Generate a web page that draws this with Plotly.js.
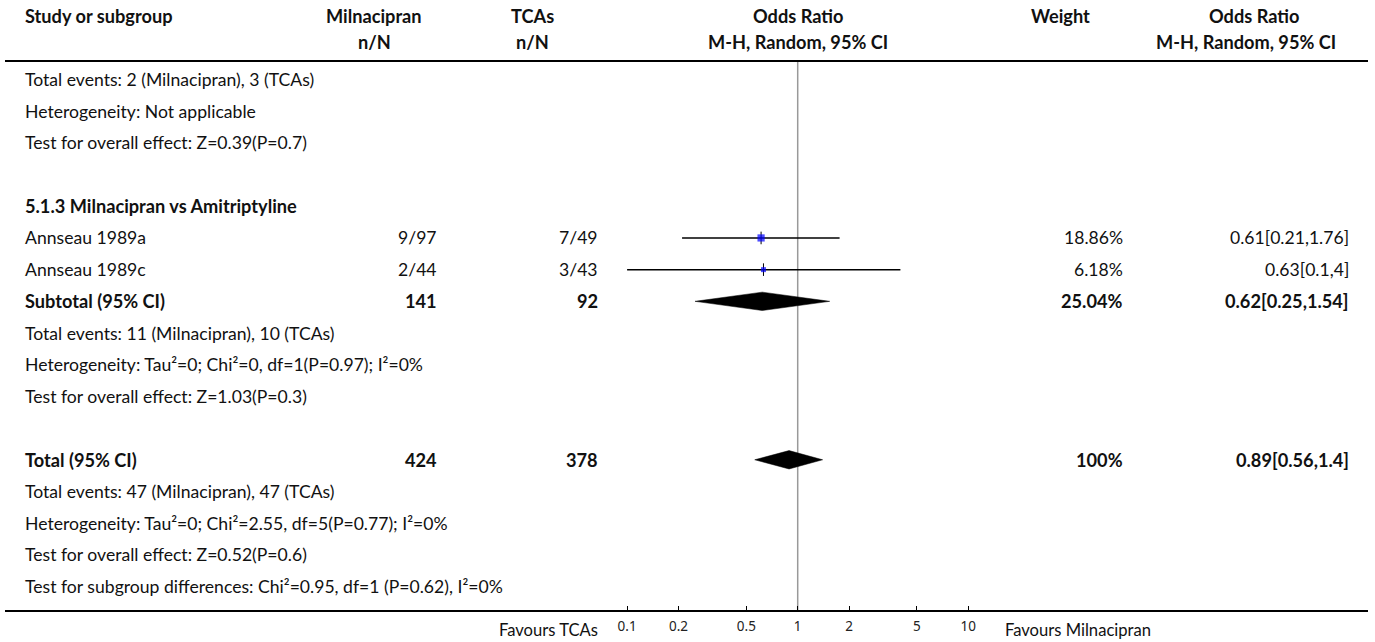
<!DOCTYPE html>
<html>
<head>
<meta charset="utf-8">
<script src="https://cdn.plot.ly/plotly-3.0.1.min.js"></script>
<style>html,body{margin:0;padding:0;background:#fff;}#chart{width:1375px;height:642px;}</style>
</head>
<body>
<div id="chart"></div>
<script>
// ---- data ----
const studies = ["Annseau 1989a", "Annseau 1989c"];
const milEvents = [9, 2];
const milTotal = [97, 44];
const tcaEvents = [7, 3];
const tcaTotal = [49, 43];
const studyOR = [0.61, 0.63];
const studyLo = [0.21, 0.1];
const studyHi = [1.76, 4];
const studyWeight = [18.86, 6.18];
const studyRows = [5, 6];

const subtotalOR = [0.62, 0.25, 1.54]; // est, lo, hi
const subtotalN = [141, 92];
const subtotalWeight = 25.04;
const totalOR = [0.89, 0.56, 1.4];
const totalN = [424, 378];
const totalWeight = 100;

const tickVals = [0.1, 0.2, 0.5, 1, 2, 5, 10];
const tickText = ["0.1", "0.2", "0.5", "1", "2", "5", "10"];

const infoLines = [
  [0, "Total events: 2 (Milnacipran), 3 (TCAs)"],
  [1, "Heterogeneity: Not applicable"],
  [2, "Test for overall effect: Z=0.39(P=0.7)"],
  [8, "Total events: 11 (Milnacipran), 10 (TCAs)"],
  [9, "Heterogeneity: Tau²=0; Chi²=0, df=1(P=0.97); I²=0%"],
  [10, "Test for overall effect: Z=1.03(P=0.3)"],
  [13, "Total events: 47 (Milnacipran), 47 (TCAs)"],
  [14, "Heterogeneity: Tau²=0; Chi²=2.55, df=5(P=0.77); I²=0%"],
  [15, "Test for overall effect: Z=0.52(P=0.6)"],
  [16, "Test for subgroup differences: Chi²=0.95, df=1 (P=0.62), I²=0%"]
];

// ---- layout geometry ----
const W = 1375, H = 642;
const FONT = "Lato, 'Noto Sans', sans-serif";
const FS = 17.6, FSB = 18.2, FSFAV = 16.6;
const px = v => v / W;
const colStudy = 22.5, colMil = 439, colTca = 600, colForest = 797.7, colWeight = 1125, colOR = 1351;
const hdrMil = 374, hdrTca = 532, hdrWeight = 1060, hdrOR = 1254, hdrOR2 = 1246;
const row0px = 79.5, rowH = 31.69, plotBottom = 611;
const yTop = (0 - row0px) / rowH, yBot = (plotBottom - row0px) / rowH;
const rowOf = p => (p - row0px) / rowH;

const ann = [];
function t(x, row, text, anchor, bold) {
  ann.push({
    xref: 'paper', yref: 'y', x: px(x), y: row, text: bold ? '<b>' + text + '</b>' : text,
    xanchor: anchor, yanchor: 'middle', showarrow: false,
    font: {family: FONT, size: bold ? FSB : FS, color: '#111'}
  });
}
// headers
const h1 = rowOf(15.5), h2 = rowOf(41.5);
t(colStudy, h1, "Study or subgroup", 'left', true);
t(hdrMil, h1, "Milnacipran", 'center', true);
t(hdrMil, h2, "n/N", 'center', true);
t(hdrTca, h1, "TCAs", 'center', true);
t(hdrTca, h2, "n/N", 'center', true);
t(colForest, h1, "Odds Ratio", 'center', true);
t(colForest, h2, "M-H, Random, 95% CI", 'center', true);
t(hdrWeight, h1, "Weight", 'center', true);
t(hdrOR, h1, "Odds Ratio", 'center', true);
t(hdrOR2, h2, "M-H, Random, 95% CI", 'center', true);

infoLines.forEach(([r, s]) => t(colStudy, r, s, 'left', false));
t(colStudy, 4, "5.1.3 Milnacipran vs Amitriptyline", 'left', true);

studies.forEach((s, i) => {
  const r = studyRows[i];
  t(colStudy, r, s, 'left', false);
  t(colMil, r, milEvents[i] + "/" + milTotal[i], 'right', false);
  t(colTca, r, tcaEvents[i] + "/" + tcaTotal[i], 'right', false);
  t(colWeight, r, studyWeight[i].toFixed(2) + "%", 'right', false);
  t(colOR, r, studyOR[i] + "[" + studyLo[i] + "," + studyHi[i] + "]", 'right', false);
});
t(colStudy, 7, "Subtotal (95% CI)", 'left', true);
t(colMil, 7, String(subtotalN[0]), 'right', true);
t(colTca, 7, String(subtotalN[1]), 'right', true);
t(colWeight, 7, subtotalWeight.toFixed(2) + "%", 'right', true);
t(colOR, 7, subtotalOR[0] + "[" + subtotalOR[1] + "," + subtotalOR[2] + "]", 'right', true);
t(colStudy, 12, "Total (95% CI)", 'left', true);
t(colMil, 12, String(totalN[0]), 'right', true);
t(colTca, 12, String(totalN[1]), 'right', true);
t(colWeight, 12, totalWeight + "%", 'right', true);
t(colOR, 12, totalOR[0] + "[" + totalOR[1] + "," + totalOR[2] + "]", 'right', true);

// favours labels
ann.push({xref: 'paper', yref: 'paper', x: px(600), y: 0, yshift: -19, text: "Favours TCAs",
  xanchor: 'right', yanchor: 'middle', showarrow: false, font: {family: FONT, size: FSFAV, color: '#111'}});
ann.push({xref: 'paper', yref: 'paper', x: px(1003), y: 0, yshift: -19, text: "Favours Milnacipran",
  xanchor: 'left', yanchor: 'middle', showarrow: false, font: {family: FONT, size: FSFAV, color: '#111'}});

// ---- traces ----
const traces = [];
// null line at OR=1
traces.push({x: [1, 1], y: [rowOf(61), yBot], mode: 'lines', line: {color: '#999', width: 1.5},
  hoverinfo: 'skip', showlegend: false});
// study CIs
studies.forEach((s, i) => {
  traces.push({x: [studyLo[i], studyHi[i]], y: [studyRows[i], studyRows[i]], mode: 'lines',
    line: {color: '#000', width: 1.5}, hoverinfo: 'skip', showlegend: false});
});
// vertical ticks through points
traces.push({x: studyOR, y: studyRows, mode: 'markers',
  marker: {symbol: 'line-ns', size: 9, line: {color: '#000', width: 1}}, hoverinfo: 'skip', showlegend: false});
// weight squares
traces.push({x: studyOR, y: studyRows, mode: 'markers',
  marker: {symbol: 'square', color: '#0000ff', size: studyWeight.map(w => 2 + Math.sqrt(w) * 1.2), line: {width: 0}},
  hoverinfo: 'skip', showlegend: false});
// diamonds
const dh = 9.2 / rowH;
function diamond(v, r) {
  traces.push({x: [v[1], v[0], v[2], v[0], v[1]], y: [r, r - dh, r, r + dh, r], mode: 'lines',
    fill: 'toself', fillcolor: '#000', line: {color: '#000', width: 0.5}, hoverinfo: 'skip', showlegend: false});
}
diamond(subtotalOR, 7);
diamond(totalOR, 12);

// forest axis placement
const fx0 = 600, fx1 = 1000, pxPerDecade = 170.6;
const xRange = [(fx0 - colForest) / pxPerDecade, (fx1 - colForest) / pxPerDecade];

const layout = {
  width: W, height: H,
  margin: {l: 0, r: 0, t: 0, b: H - plotBottom, pad: 0},
  paper_bgcolor: '#fff', plot_bgcolor: 'rgba(0,0,0,0)',
  showlegend: false,
  xaxis: {type: 'log', domain: [px(fx0), px(fx1)], range: xRange, showgrid: false, zeroline: false,
    showline: false, ticks: 'inside', ticklen: 5, tickwidth: 1, tickcolor: '#000',
    tickvals: tickVals, ticktext: tickText, ticklabelstandoff: 5,
    tickfont: {family: "'Noto Sans', sans-serif", size: 13.5, color: '#222'}, fixedrange: true},
  yaxis: {range: [yBot, yTop], visible: false, showgrid: false, zeroline: false, fixedrange: true},
  shapes: [
    {type: 'line', xref: 'paper', yref: 'paper', x0: px(5), x1: px(1368), y0: 1 - 61 / plotBottom, y1: 1 - 61 / plotBottom,
      line: {color: '#000', width: 2}},
    {type: 'line', xref: 'paper', yref: 'paper', x0: px(5), x1: px(1368), y0: 0, y1: 0,
      line: {color: '#000', width: 2}}
  ],
  annotations: ann
};
Plotly.newPlot('chart', traces, layout, {staticPlot: true, displayModeBar: false});
</script>
</body>
</html>
